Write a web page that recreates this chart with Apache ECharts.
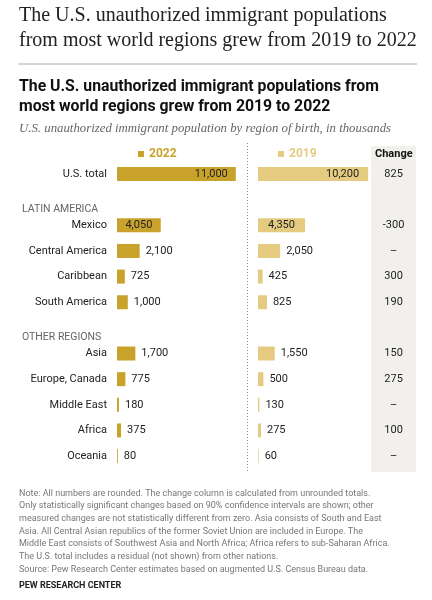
<!DOCTYPE html>
<html lang="en">
	<head>
		<meta charset="utf-8">
	</head>
	<body style="margin: 0">
		<div id="container" style="width: 432px; height: 600px"></div>
		<script type="text/javascript" src="https://cdn.jsdelivr.net/npm/echarts@6.0.0/dist/echarts.min.js"></script>
		<script type="text/javascript">
			// rows, top to bottom; the two headers are rows with no bars
			const categories = ['U.S. total', 'LATIN AMERICA', 'Mexico', 'Central America', 'Caribbean', 'South America',
				'OTHER REGIONS', 'Asia', 'Europe, Canada', 'Middle East', 'Africa', 'Oceania']
			const headers = ['LATIN AMERICA', 'OTHER REGIONS']
			const values2022 = [11000, null, 4050, 2100, 725, 1000, null, 1700, 775, 180, 375, 80]
			const values2019 = [10200, null, 4350, 2050, 425, 825, null, 1550, 500, 130, 275, 60]
			const changes = ['825', '', '-300', '–', '300', '190', '', '150', '275', '–', '100', '–']

			const gold = '#c9a22b'
			const lightGold = '#e4cb80'
			const sans = 'Roboto'

			var chartDom = document.getElementById('container');
			var myChart = echarts.init(chartDom);
			var option;

			function fmt(v) {
				return v.toLocaleString('en-US')
			}

			function barData(values, dist) {
				return values.map(function(v) {
					if (v == null) return null
					let pos = 'right'
					if (v >= 8000) pos = 'insideRight'
					else if (v >= 3000) pos = 'inside'
					return {
						value: v,
						label: {
							position: pos,
							distance: pos == 'right' ? 6 : dist
						}
					}
				})
			}

			const note = 'Note: All numbers are rounded. The change column is calculated from unrounded totals.\n' +
				'Only statistically significant changes based on 90% confidence intervals are shown; other\n' +
				'measured changes are not statistically different from zero. Asia consists of South and East\n' +
				'Asia. All Central Asian republics of the former Soviet Union are included in Europe. The\n' +
				'Middle East consists of Southwest Asia and North Africa; Africa refers to sub-Saharan Africa.\n' +
				'The U.S. total includes a residual (not shown) from other nations.\n' +
				'Source: Pew Research Center estimates based on augmented U.S. Census Bureau data.'

			option = {
				animation: false,
				backgroundColor: '#fff',
				title: [{
						text: 'The U.S. unauthorized immigrant populations\nfrom most world regions grew from 2019 to 2022',
						left: 14,
						top: -2,
						textStyle: {
							fontFamily: 'Liberation Serif',
							fontSize: 20,
							lineHeight: 25,
							fontWeight: 'normal',
							color: '#222'
						}
					},
					{
						text: 'The U.S. unauthorized immigrant populations from\nmost world regions grew from 2019 to 2022',
						left: 14,
						top: 72,
						textStyle: {
							fontFamily: sans,
							fontSize: 15.8,
							lineHeight: 20,
							fontWeight: 'bold',
							color: '#111'
						}
					},
					{
						text: 'U.S. unauthorized immigrant population by region of birth, in thousands',
						left: 14,
						top: 117,
						textStyle: {
							fontFamily: 'Liberation Serif',
							fontSize: 12.8,
							fontStyle: 'italic',
							fontWeight: 'normal',
							color: '#666'
						}
					},
					{
						text: 'Change',
						left: 370,
						top: 144,
						textStyle: {
							fontFamily: sans,
							fontSize: 11,
							fontWeight: 'bold',
							color: '#111'
						}
					},
					{
						text: note,
						left: 14,
						top: 482,
						textStyle: {
							fontFamily: sans,
							fontSize: 9,
							lineHeight: 12.7,
							fontWeight: 'normal',
							color: '#777'
						}
					},
					{
						text: 'PEW RESEARCH CENTER',
						left: 14,
						top: 576,
						textStyle: {
							fontFamily: sans,
							fontSize: 9,
							fontWeight: 'bold',
							color: '#222'
						}
					}
				],
				graphic: [{
						type: 'line',
						shape: { x1: 18, y1: 64, x2: 417, y2: 64 },
						style: { stroke: '#aaa', lineWidth: 1 }
					},
					{
						type: 'rect',
						z: -1,
						shape: { x: 371, y: 146, width: 45, height: 326 },
						style: { fill: '#f1f0ec' }
					},
					{
						type: 'line',
						shape: { x1: 247.5, y1: 143, x2: 247.5, y2: 472 },
						style: { stroke: '#888', lineWidth: 1, lineDash: [1, 2] }
					}
				],
				legend: [{
						data: ['2022'],
						left: 133,
						top: 143,
						icon: 'rect',
						itemWidth: 6,
						itemHeight: 6,
						textStyle: { color: gold, fontWeight: 'bold', fontSize: 12, fontFamily: sans }
					},
					{
						data: ['2019'],
						left: 273,
						top: 143,
						icon: 'rect',
						itemWidth: 6,
						itemHeight: 6,
						textStyle: { color: lightGold, fontWeight: 'bold', fontSize: 12, fontFamily: sans }
					}
				],
				grid: [{
						left: 117,
						width: 129.6,
						top: 161.2,
						height: 307.7
					},
					{
						left: 258,
						width: 129.6,
						top: 161.2,
						height: 307.7
					}
				],
				xAxis: [{
						type: 'value',
						gridIndex: 0,
						min: 0,
						max: 12000,
						show: false
					},
					{
						type: 'value',
						gridIndex: 1,
						min: 0,
						max: 12000,
						show: false
					}
				],
				yAxis: [{
						type: 'category',
						gridIndex: 0,
						inverse: true,
						data: categories,
						axisLine: { show: false },
						axisTick: { show: false },
						axisLabel: {
							margin: 10,
							fontFamily: sans,
							fontSize: 11,
							color: '#222',
							formatter: function(v) {
								return headers.indexOf(v) >= 0 ? '{hdr|' + v + '}' : v
							},
							rich: {
								hdr: {
									width: 85,
									align: 'left',
									fontFamily: sans,
									fontSize: 10.5,
									color: '#666',
									padding: [20, 0, 0, 0]
								}
							}
						}
					},
					{
						type: 'category',
						gridIndex: 1,
						inverse: true,
						data: categories,
						show: false
					},
					{
						// change column
						type: 'category',
						gridIndex: 1,
						position: 'right',
						inverse: true,
						data: categories,
						axisLine: { show: false },
						axisTick: { show: false },
						axisLabel: {
							margin: 6,
							align: 'center',
							fontFamily: sans,
							fontSize: 11,
							color: '#222',
							formatter: function(v, i) {
								return changes[i]
							}
						}
					}
				],
				series: [{
						name: '2022',
						type: 'bar',
						xAxisIndex: 0,
						yAxisIndex: 0,
						barWidth: 14,
						itemStyle: { color: gold },
						label: {
							show: true,
							fontFamily: sans,
							fontSize: 11,
							color: '#222',
							formatter: function(p) {
								return fmt(p.value)
							}
						},
						data: barData(values2022, 8)
					},
					{
						name: '2019',
						type: 'bar',
						xAxisIndex: 1,
						yAxisIndex: 1,
						barWidth: 14,
						itemStyle: { color: lightGold },
						label: {
							show: true,
							fontFamily: sans,
							fontSize: 11,
							color: '#222',
							formatter: function(p) {
								return fmt(p.value)
							}
						},
						data: barData(values2019, 9)
					}
				]
			};
			option && myChart.setOption(option);
		</script>
	</body>
</html>
